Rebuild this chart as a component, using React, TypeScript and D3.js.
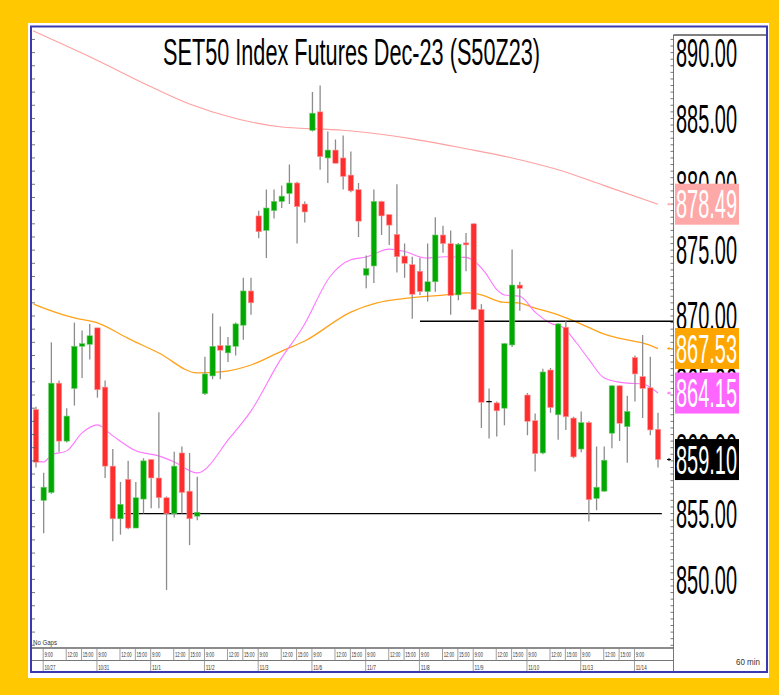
import React from 'react';
import * as d3 from 'd3';

const W = 779;
const H = 695;

// ---- OHLC (60 min bars, S50Z23) ----
const opens = [862.9, 856.0, 856.6, 864.9, 860.5, 864.5, 867.7, 867.85, 869.1, 864.6, 858.6, 854.6, 857.6, 853.9, 856.1, 859.1, 857.7, 856.2, 855.0, 859.6, 856.7, 854.8, 864.1, 865.45, 867.75, 867.2, 867.7, 869.3, 871.9, 877.6, 876.5, 878.0, 878.7, 879.3, 880.1, 878.5, 884.1, 885.5, 882.0, 882.6, 882.0, 880.7, 879.6, 873.1, 873.8, 878.7, 877.7, 876.2, 874.55, 873.9, 873.4, 871.85, 872.6, 876.15, 875.5, 871.6, 875.55, 877.0, 870.5, 863.5, 863.4, 863.0, 867.8, 872.35, 864.0, 862.05, 859.6, 865.9, 862.5, 869.15, 862.25, 859.9, 861.9, 856.15, 856.7, 861.1, 864.7, 861.6, 866.85, 865.4, 864.55, 861.4];
const highs = [863.1, 858.1, 868.0, 865.1, 863.0, 869.5, 868.9, 869.4, 869.1, 865.1, 859.9, 857.4, 859.0, 857.4, 859.2, 859.1, 862.7, 856.3, 859.7, 860.1, 859.6, 857.8, 866.9, 870.2, 869.2, 868.4, 869.5, 872.9, 872.9, 878.0, 879.6, 879.6, 879.9, 881.5, 880.2, 878.7, 887.0, 887.5, 884.0, 883.4, 883.7, 882.5, 880.1, 874.6, 879.6, 878.75, 877.7, 880.0, 875.5, 874.5, 874.4, 875.5, 877.5, 876.85, 876.5, 875.55, 876.3, 877.05, 870.9, 864.5, 863.5, 867.95, 875.05, 872.6, 864.15, 862.6, 866.0, 866.05, 869.45, 869.6, 862.35, 862.75, 862.0, 860.1, 860.1, 864.75, 864.75, 863.95, 867.0, 868.55, 866.9, 862.65];
const lows = [858.5, 853.5, 856.5, 859.7, 860.4, 863.2, 865.3, 866.7, 863.8, 857.7, 852.9, 853.4, 853.8, 853.9, 855.0, 855.4, 855.4, 849.2, 854.7, 855.0, 852.6, 854.5, 864.0, 865.2, 865.2, 866.5, 867.0, 868.2, 870.1, 875.9, 874.4, 877.4, 878.2, 878.5, 875.5, 877.1, 884.0, 881.1, 880.1, 881.6, 879.6, 879.4, 876.0, 872.1, 872.5, 876.15, 875.4, 873.3, 872.9, 869.8, 871.6, 871.1, 871.85, 874.8, 870.1, 871.2, 873.4, 870.45, 861.5, 860.7, 860.85, 861.7, 867.65, 870.4, 860.95, 858.2, 859.5, 862.65, 860.6, 861.35, 859.2, 859.65, 854.4, 855.25, 856.65, 859.95, 860.5, 858.85, 863.5, 862.25, 860.95, 858.5];
const closes = [858.9, 857.0, 864.9, 860.5, 862.4, 867.7, 867.9, 868.5, 864.4, 858.6, 854.6, 855.7, 853.9, 856.2, 859.0, 857.7, 856.2, 855.0, 858.6, 856.6, 854.6, 855.1, 865.6, 867.7, 867.4, 867.75, 869.4, 871.9, 871.0, 876.4, 878.2, 878.7, 879.1, 880.1, 878.3, 877.9, 885.4, 882.1, 882.6, 881.6, 880.6, 879.5, 877.2, 873.6, 878.7, 877.6, 876.9, 874.5, 874.0, 871.65, 871.85, 872.6, 876.15, 875.5, 871.55, 875.45, 875.4, 870.5, 863.45, 863.5, 862.8, 867.9, 872.35, 872.1, 862.0, 859.55, 865.75, 863.05, 869.4, 862.35, 859.3, 861.9, 856.05, 857.0, 859.05, 864.7, 861.85, 862.75, 865.6, 864.5, 861.35, 859.1];

// ---- moving averages, read at bar positions [barIndex, value] ----
const maLong: [number, number][] = [[-0.4, 891.65], [8, 889.4], [15, 887.4], [20, 886.1], [26, 885.0], [32, 884.35], [40, 884.1], [49, 883.45], [56, 882.7], [62, 882.0], [68, 881.1], [74, 879.9], [81, 878.49]];
const maMid: [number, number][] = [[-0.3, 870.9], [0, 870.83], [5, 869.85], [8, 869.47], [12, 868.3], [16, 867.19], [21, 865.68], [24, 865.75], [28, 866.28], [32, 867.34], [35, 868.1], [41, 870.3], [44.4, 870.99], [48.7, 871.37], [53.3, 871.6], [56.3, 871.75], [58, 871.6], [60.7, 871.06], [62.8, 870.99], [65, 870.6], [68, 870.08], [71, 869.39], [74, 868.63], [77, 868.18], [79, 867.95], [81, 867.53]];
const maShort: [number, number][] = [[-0.4, 859.0], [1, 858.92], [2, 859.45], [4, 859.76], [6, 861.12], [8, 861.73], [10, 860.9], [13, 859.76], [16, 859.38], [18, 858.92], [21, 858.09], [25.3, 860.8], [27.9, 862.7], [31.8, 866.65], [34.8, 869.2], [38.3, 873.0], [40.9, 874.25], [43, 874.48], [46, 875.08], [48, 874.9], [50.7, 874.4], [53.3, 874.5], [56, 874.45], [57, 874.2], [58.5, 873.3], [60, 872.0], [61, 871.6], [63, 871.5], [65, 870.3], [67, 869.45], [68.6, 869.15], [70.4, 867.95], [72, 866.7], [74, 865.3], [77, 864.9], [79, 864.84], [81, 864.15]];

// ---- horizontal trend lines ----
const hLineValues = [869.6, 855.0];
const hLineFrom = [50.0, 11.5];
const hLineTo = [83.0, 81.5];

// ---- axis labels ----
const priceTicks = [890, 885, 880, 875, 870, 865, 860, 855, 850];
const dayLabels = ['10/27', '10/31', '11/1', '11/2', '11/3', '11/6', '11/7', '11/8', '11/9', '11/10', '11/13', '11/14'];
const timeLabels = ['9:00', '12:00', '15:00'];
const timeOffsets = [0, 3, 5];
const barsPerDay = 7;
const firstDayBar = 1;
const lastBars = 82;

const lastValues = [878.49, 867.53, 864.15, 859.1];
const lastColors = ['#FFA8A8', '#FFA500', '#FF66FF', '#000000'];

const title = 'SET50 Index Futures Dec-23 (S50Z23)';

export default function App() {
  const x = d3.scaleLinear().domain([0, 81]).range([36, 658]);
  const y = d3.scaleLinear().domain([850, 890]).range([579.4, 52.6]);
  const plotL = 31, plotR = 673.5, plotT = 27, plotB = 648;
  const bw = 5.4;

  const lineGen = d3
    .line<[number, number]>()
    .x((d) => x(d[0]))
    .y((d) => y(d[1]))
    .curve(d3.curveMonotoneX);

  const leftTicks = d3.range(845, 892, 1);
  const rightTicks = d3.range(845, 892, 0.5);

  const font = 'Liberation Sans, Arial, sans-serif';

  const dayStarts = dayLabels.map((_, k) => firstDayBar + k * barsPerDay);

  return (
    <svg width={W} height={H} style={{ position: 'absolute', left: 0, top: 0 }} fontFamily={font}>
      <rect x={0} y={0} width={W} height={H} fill="#FFC800" />
      <rect x={28} y={23} width={741} height={655} fill="#FFFFFF" />
      <defs>
        <clipPath id="plotclip">
          <rect x={plotL} y={plotT} width={plotR - plotL} height={plotB - plotT} />
        </clipPath>
      </defs>

      {/* title */}
      <text x={351.5} y={65} fontSize={37} textAnchor="middle" textLength={377} lengthAdjust="spacingAndGlyphs" fill="#000">
        {title}
      </text>

      <g clipPath="url(#plotclip)">
        {/* moving averages */}
        <path d={lineGen(maLong) || ''} fill="none" stroke="#FFA0A0" strokeWidth={1.1} />
        <path d={lineGen(maMid) || ''} fill="none" stroke="#FFA21A" strokeWidth={1.3} />
        <path d={lineGen(maShort) || ''} fill="none" stroke="#FF77FF" strokeWidth={1.1} />

        {/* horizontal lines */}
        {hLineValues.map((v, k) => (
          <line key={'h' + k} x1={x(hLineFrom[k])} x2={x(hLineTo[k])} y1={y(v)} y2={y(v)} stroke="#000" strokeWidth={1.3} />
        ))}

        {/* candles */}
        {opens.map((o, i) => {
          const c = closes[i];
          const cx = x(i);
          const up = c > o;
          const doji = c === o;
          const top = y(Math.max(o, c));
          const bot = y(Math.min(o, c));
          return (
            <g key={i}>
              <line x1={cx} x2={cx} y1={y(highs[i])} y2={y(lows[i])} stroke="#8C8C8C" strokeWidth={1.3} />
              {doji ? (
                <line x1={cx - bw / 2} x2={cx + bw / 2} y1={top} y2={top} stroke="#000" strokeWidth={1.3} />
              ) : (
                <rect
                  x={cx - bw / 2}
                  y={top}
                  width={bw}
                  height={Math.max(bot - top, 1.5)}
                  fill={up ? '#00A800' : '#FF2E2E'}
                  stroke={up ? '#70CC70' : '#FF9A9A'}
                  strokeWidth={0.6}
                />
              )}
            </g>
          );
        })}
      </g>

      {/* left axis ticks */}
      {leftTicks.map((v) => (
        <line key={'lt' + v} x1={32} x2={35} y1={y(v)} y2={y(v)} stroke="#555" strokeWidth={0.8} />
      ))}

      {/* right axis */}
      <line x1={plotR} x2={plotR} y1={35} y2={plotB} stroke="#777" strokeWidth={1} />
      <line x1={plotR} x2={767} y1={35} y2={35} stroke="#000" strokeWidth={1} />
      {rightTicks.filter((v) => y(v) > 36).map((v) => (
        <line key={'rt' + v} x1={670.5} x2={plotR} y1={y(v)} y2={y(v)} stroke="#555" strokeWidth={0.8} />
      ))}
      {priceTicks.map((v) => (
        <text key={'pl' + v} x={676} y={y(v) + 14.3} fontSize={40} textLength={61} lengthAdjust="spacingAndGlyphs" fill="#000">
          {v.toFixed(2)}
        </text>
      ))}

      {/* last value labels */}
      {lastValues.map((v, k) => (
        <g key={'lv' + k}>
          <line x1={667} x2={671} y1={y(v)} y2={y(v)} stroke={lastColors[k]} strokeWidth={1} />
          <line x1={669} x2={669} y1={y(v) - 1.5} y2={y(v) + 1.5} stroke={lastColors[k]} strokeWidth={1} />
          <rect x={675} y={y(v) - 20.5} width={64} height={41} fill={lastColors[k]} />
          <text x={676} y={y(v) + 14.3} fontSize={40} textLength={61} lengthAdjust="spacingAndGlyphs" fill="#FFFFFF">
            {v.toFixed(2)}
          </text>
        </g>
      ))}

      {/* time axis */}
      <text x={33} y={645} fontSize={6.5} textLength={24} lengthAdjust="spacingAndGlyphs" fill="#333">
        No Gaps
      </text>
      <line x1={plotL} x2={plotR} y1={plotB} y2={plotB} stroke="#666" strokeWidth={1.4} />
      <line x1={plotL} x2={plotR} y1={660.5} y2={660.5} stroke="#777" strokeWidth={1} />
      <line x1={plotR} x2={plotR} y1={plotB} y2={672} stroke="#777" strokeWidth={1} />
      {dayStarts.map((b, k) => {
        const offs = b + timeOffsets[timeOffsets.length - 1] < lastBars ? timeOffsets : timeOffsets.filter((o) => b + o < lastBars - 1);
        return (
          <g key={'d' + k}>
            {offs.map((o, j) => {
              const tx = x(b + o) - 0.5;
              const lbl = timeLabels[timeOffsets.indexOf(o)];
              return (
                <g key={j}>
                  <line x1={tx} x2={tx} y1={plotB} y2={660.5} stroke="#888" strokeWidth={0.8} />
                  <text x={tx + 1.2} y={656.5} fontSize={6.5} textLength={lbl.length > 4 ? 10.5 : 8.5} lengthAdjust="spacingAndGlyphs" fill="#333">
                    {lbl}
                  </text>
                </g>
              );
            })}
            <line x1={x(b) - 0.5} x2={x(b) - 0.5} y1={660.5} y2={672} stroke="#888" strokeWidth={0.8} />
            <text x={x(b) + 0.7} y={669.5} fontSize={7} textLength={dayLabels[k].length > 4 ? 11 : 9} lengthAdjust="spacingAndGlyphs" fill="#333">
              {dayLabels[k]}
            </text>
          </g>
        );
      })}
      <text x={736} y={665} fontSize={9} textLength={24} lengthAdjust="spacingAndGlyphs" fill="#333">
        60 min
      </text>

      {/* frame */}
      <rect x={31} y={26.5} width={736} height={645.5} fill="none" stroke="#3A3AB0" strokeWidth={2} />
    </svg>
  );
}
